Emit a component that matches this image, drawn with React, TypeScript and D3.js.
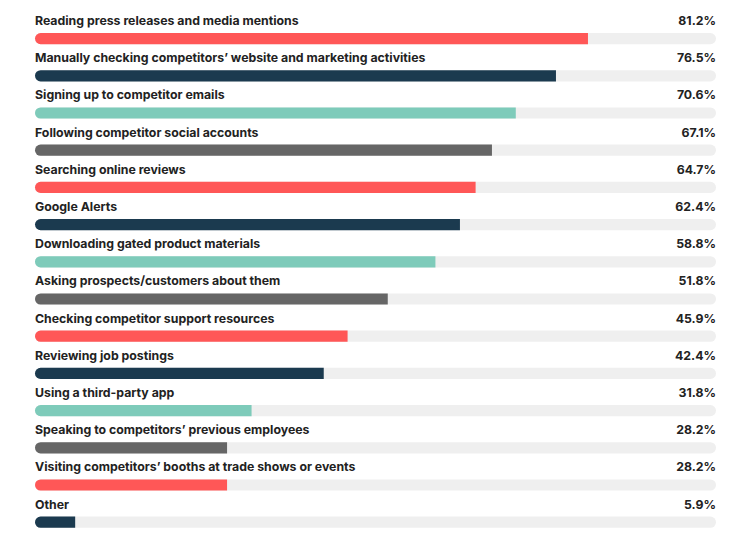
import React from "react";
import * as d3 from "d3";

const categories = [
  "Reading press releases and media mentions",
  "Manually checking competitors’ website and marketing activities",
  "Signing up to competitor emails",
  "Following competitor social accounts",
  "Searching online reviews",
  "Google Alerts",
  "Downloading gated product materials",
  "Asking prospects/customers about them",
  "Checking competitor support resources",
  "Reviewing job postings",
  "Using a third-party app",
  "Speaking to competitors’ previous employees",
  "Visiting competitors’ booths at trade shows or events",
  "Other",
];
const values = [81.2, 76.5, 70.6, 67.1, 64.7, 62.4, 58.8, 51.8, 45.9, 42.4, 31.8, 28.2, 28.2, 5.9];
const palette = ["#FF5757", "#1B3A4F", "#7ECBBA", "#666666"];

const W = 753;
const H = 537;
const left = 35;
const right = 716;
const barH = 11.2;
const top0 = 33;
const step = 37.2;

export default function App() {
  const x = d3.scaleLinear().domain([0, 100]).range([left, right]);
  const y = d3.scaleLinear().domain([0, 1]).range([top0, top0 + step]);
  const r = barH / 2;
  const barPath = (x0: number, x1: number, yy: number) => {
    const p = d3.path();
    p.moveTo(x1, yy);
    p.lineTo(x0 + r, yy);
    p.arc(x0 + r, yy + r, r, -Math.PI / 2, Math.PI / 2, true);
    p.lineTo(x1, yy + barH);
    p.closePath();
    return p.toString();
  };
  return (
    <svg
      width={W}
      height={H}
      style={{ position: "absolute", left: 0, top: 0, background: "#fff" }}
      fontFamily="Inter, 'Noto Sans', sans-serif"
    >
      <rect width={W} height={H} fill="#fff" />
      {categories.map((c, i) => {
        const yy = y(i);
        return (
          <g key={c}>
            <text x={left} y={yy - 8} fontSize={12.3} fontWeight={700} fill="#222">
              {c}
            </text>
            <text x={right} y={yy - 8} fontSize={12.3} fontWeight={700} fill="#222" textAnchor="end">
              {values[i].toFixed(1)}%
            </text>
            <rect x={left} y={yy} width={right - left} height={barH} rx={r} fill="#EFEFEF" />
            <path d={barPath(x(0), x(values[i]), yy)} fill={palette[i % 4]} />
          </g>
        );
      })}
    </svg>
  );
}
